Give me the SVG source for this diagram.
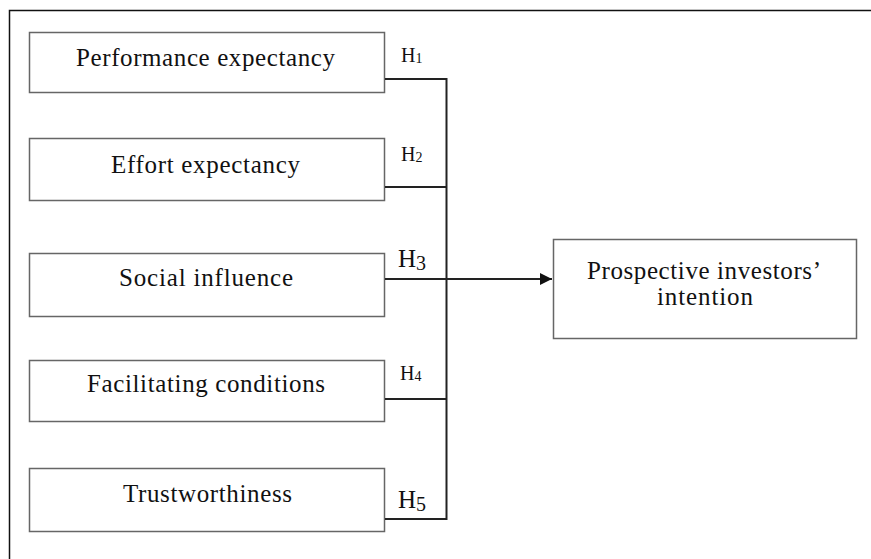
<svg xmlns="http://www.w3.org/2000/svg" width="871" height="559" viewBox="0 0 871 559">
<defs>
<style>
.box{fill:#fff;stroke:#666;stroke-width:1.5}
.t{font-family:"Times New Roman","Liberation Serif",Times,serif;font-size:25px;fill:#111}
.h{font-family:"Times New Roman","Liberation Serif",Times,serif;fill:#111}
.c{fill:none;stroke:#222;stroke-width:2}
</style>
<marker id="arr" markerWidth="12" markerHeight="12" refX="12" refY="6" orient="auto" markerUnits="userSpaceOnUse">
<path d="M0,0 L12,6 L0,12 Z" fill="#111"/>
</marker>
</defs>
<rect x="0" y="0" width="871" height="559" fill="#fff"/>
<path d="M9.5,559 V10.5 H871" fill="none" stroke="#111" stroke-width="1.5"/>

<g id="n1">
<rect class="box" x="29.5" y="32.5" width="355" height="60"/>
<text class="t" x="76" y="66" textLength="259" lengthAdjust="spacing">Performance expectancy</text>
</g>
<g id="n2">
<rect class="box" x="29.5" y="138.5" width="355" height="62"/>
<text class="t" x="111" y="173" textLength="189" lengthAdjust="spacing">Effort expectancy</text>
</g>
<g id="n3">
<rect class="box" x="29.5" y="253.5" width="355" height="63"/>
<text class="t" x="119" y="286" textLength="174" lengthAdjust="spacing">Social influence</text>
</g>
<g id="n4">
<rect class="box" x="29.5" y="360.5" width="355" height="61"/>
<text class="t" x="87" y="392" textLength="238" lengthAdjust="spacing">Facilitating conditions</text>
</g>
<g id="n5">
<rect class="box" x="29.5" y="468.5" width="355" height="63"/>
<text class="t" x="123" y="502" textLength="169" lengthAdjust="spacing">Trustworthiness</text>
</g>
<g id="n6">
<rect class="box" x="553.5" y="239.5" width="303" height="99"/>
<text class="t" x="587" y="279" textLength="234" lengthAdjust="spacing">Prospective investors’</text>
<text class="t" x="657" y="305" textLength="96" lengthAdjust="spacing">intention</text>
</g>

<g id="connectors">
<path class="c" d="M385,79 H446.5 V519 H385"/>
<path class="c" d="M385,187 H446.5"/>
<path class="c" d="M385,399 H446.5"/>
<path class="c" d="M385,279 H552" marker-end="url(#arr)"/>
</g>

<g id="labels">
<text class="h" x="401" y="62" font-size="20">H<tspan font-size="14" dy="1">1</tspan></text>
<text class="h" x="401" y="161" font-size="20">H<tspan font-size="14" dy="1">2</tspan></text>
<text class="h" x="398" y="267" font-size="25">H<tspan font-size="20" dy="3">3</tspan></text>
<text class="h" x="400" y="380" font-size="20">H<tspan font-size="14" dy="1">4</tspan></text>
<text class="h" x="398" y="508" font-size="25">H<tspan font-size="20" dy="3">5</tspan></text>
</g>
</svg>
